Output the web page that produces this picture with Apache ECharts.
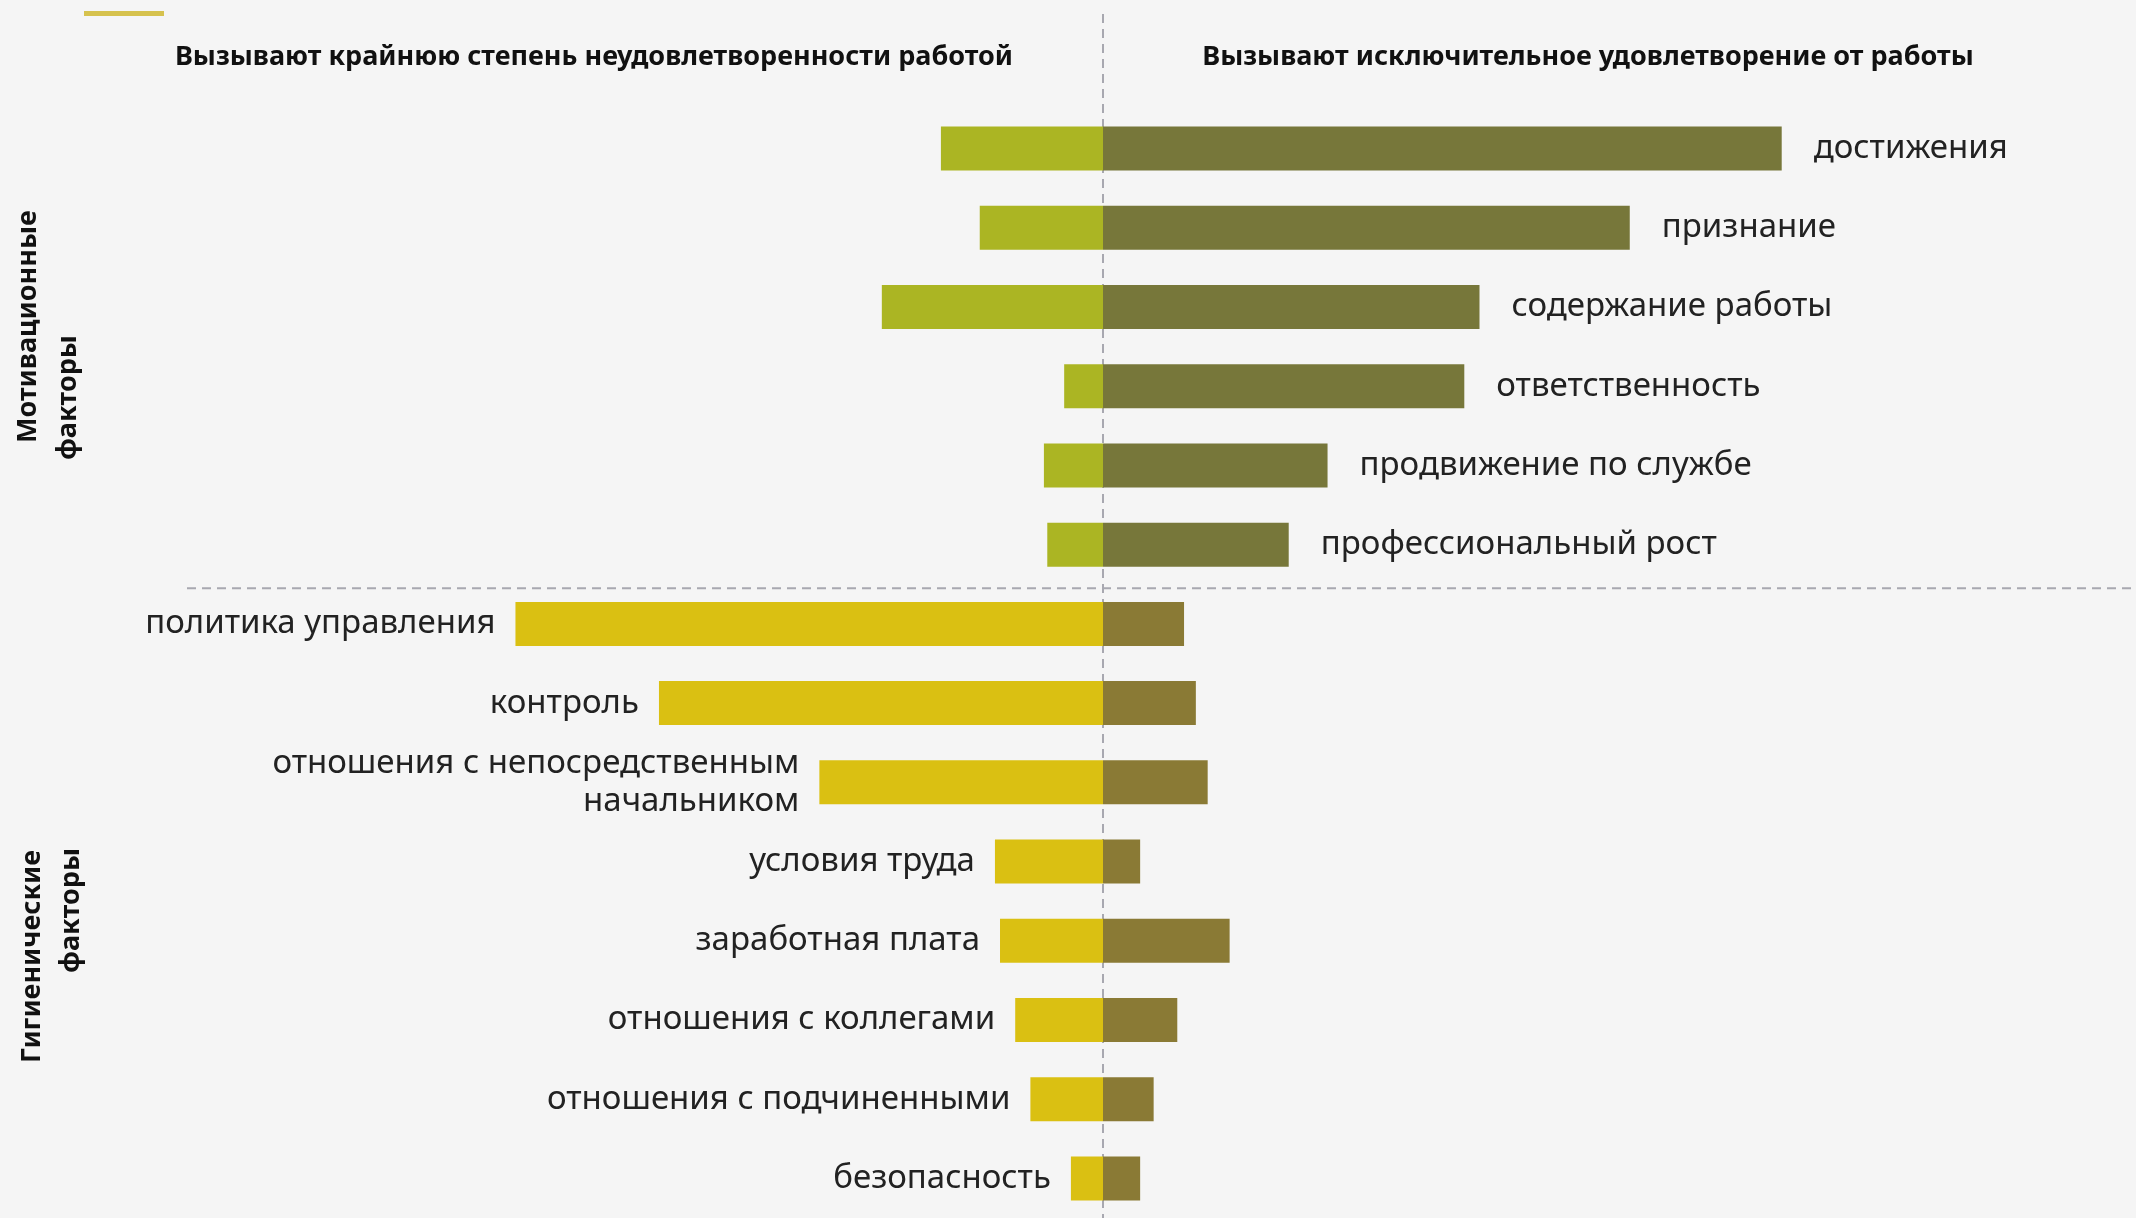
<!DOCTYPE html>
<html>
<head>
<meta charset="utf-8">
<script src="https://cdn.jsdelivr.net/npm/echarts@6/dist/echarts.min.js"></script>
<style>
html,body{margin:0;padding:0;background:#f5f5f5;}
#main{width:2136px;height:1218px;}
</style>
</head>
<body>
<div id="main"></div>
<script>
const categories = ['достижения','признание','содержание работы','ответственность','продвижение по службе','профессиональный рост','политика управления','контроль','отношения с непосредственным\nначальником','условия труда','заработная плата','отношения с коллегами','отношения с подчиненными','безопасность'];
const motivationalCount = 6;
const dissatisfaction = [9.6, 7.3, 13.1, 2.3, 3.5, 3.3, 34.8, 26.3, 16.8, 6.4, 6.1, 5.2, 4.3, 1.9];
const satisfaction = [40.2, 31.2, 22.3, 21.4, 13.3, 11.0, 4.8, 5.5, 6.2, 2.2, 7.5, 4.4, 3.0, 2.2];
const headerLeft = 'Вызывают крайнюю степень неудовлетворенности работой';
const headerRight = 'Вызывают исключительное удовлетворение от работы';
const groupMotivational = ['Мотивационные', 'факторы'];
const groupHygiene = ['Гигиенические', 'факторы'];

const C = {
  motLeft: '#abb523', motRight: '#77773a',
  hygLeft: '#dac012', hygRight: '#8a7a35',
  text: '#222222', dash: '#a8a8b0'
};
const FONT = '"Noto Sans", sans-serif';

const chart = echarts.init(document.getElementById('main'));
const option = {
  backgroundColor: '#f5f5f5',
  animation: false,
  grid: { left: 90, right: 20, top: 109, height: 1113, containLabel: false },
  xAxis: { type: 'value', min: -60, max: 60, show: false },
  yAxis: { type: 'category', data: categories, inverse: true, show: false },
  series: [
    {
      type: 'bar', name: 'left',
      data: dissatisfaction.map(v => -v),
      barWidth: 44, barGap: '-100%',
      itemStyle: { color: p => p.dataIndex < motivationalCount ? C.motLeft : C.hygLeft },
      label: {
        show: true, position: 'left', distance: 20,
        color: C.text, fontFamily: FONT, fontSize: 33, lineHeight: 38, align: 'right',
        formatter: p => p.dataIndex < motivationalCount ? '' : categories[p.dataIndex]
      }
    },
    {
      type: 'bar', name: 'right',
      data: satisfaction,
      barWidth: 44, barGap: '-100%',
      itemStyle: { color: p => p.dataIndex < motivationalCount ? C.motRight : C.hygRight },
      label: {
        show: true, position: 'right', distance: 32,
        color: C.text, fontFamily: FONT, fontSize: 33,
        formatter: p => p.dataIndex < motivationalCount ? categories[p.dataIndex] : ''
      }
    }
  ]
};
chart.setOption(option);

const cx = chart.convertToPixel({ xAxisIndex: 0 }, 0);
const ya = chart.convertToPixel({ yAxisIndex: 0 }, categories[motivationalCount - 1]);
const yb = chart.convertToPixel({ yAxisIndex: 0 }, categories[motivationalCount]);
const sepY = (ya + yb) / 2 + 4;

const dashStyle = { stroke: C.dash, lineWidth: 2, lineDash: [9, 6] };
const boldText = (text, x, y, align) => ({
  type: 'text', x: x, y: y, rotation: Math.PI / 2,
  style: { text: text, fill: '#111', font: 'bold 27px ' + FONT, textAlign: align, textVerticalAlign: 'middle' }
});

chart.setOption({
  graphic: [
    { type: 'line', shape: { x1: cx, y1: 14, x2: cx, y2: 1218 }, style: dashStyle, z: -1 },
    { type: 'line', shape: { x1: 187, y1: sepY, x2: 2136, y2: sepY }, style: dashStyle, z: -1 },
    { type: 'rect', shape: { x: 84, y: 11, width: 80, height: 5 }, style: { fill: '#d6c24e' } },
    { type: 'text', x: 594, y: 57, style: { text: headerLeft, fill: '#111', font: 'bold 27px ' + FONT, textAlign: 'center', textVerticalAlign: 'middle' } },
    { type: 'text', x: 1588, y: 57, style: { text: headerRight, fill: '#111', font: 'bold 27px ' + FONT, textAlign: 'center', textVerticalAlign: 'middle' } },
    boldText(groupMotivational[0], 28, 443, 'left'),
    boldText(groupMotivational[1], 68, 460, 'left'),
    boldText(groupHygiene[0], 32, 850, 'right'),
    boldText(groupHygiene[1], 71, 848, 'right')
  ]
});
</script>
</body>
</html>
